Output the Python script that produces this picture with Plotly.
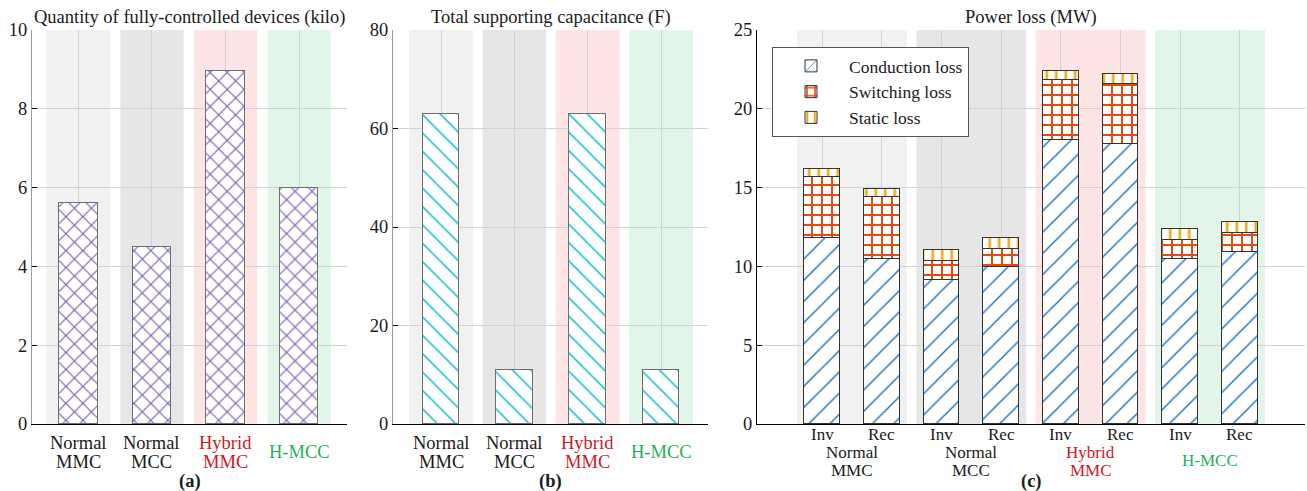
import plotly.graph_objects as go

# ---------------- data ----------------
groups = [["Normal", "MMC"], ["Normal", "MCC"], ["Hybrid", "MMC"], ["H-MCC"]]
group_colors = ["#1a1a1a", "#1a1a1a", "#cc1a1f", "#1fb25a"]
band_colors = ["#f1f1f1", "#e6e6e6", "#fde4e5", "#e2f5e9"]

devices_kilo = [5.6, 4.5, 8.95, 6.0]
capacitance_F = [63, 11, 63, 11]

loss_labels = ["Inv", "Rec", "Inv", "Rec", "Inv", "Rec", "Inv", "Rec"]
conduction_loss = [11.8, 10.5, 9.15, 9.95, 18.0, 17.75, 10.5, 10.9]
switching_loss = [3.9, 3.9, 1.2, 1.15, 3.85, 3.85, 1.15, 1.2]
static_loss = [0.5, 0.5, 0.7, 0.7, 0.55, 0.6, 0.7, 0.7]

titles = ["Quantity of fully-controlled devices (kilo)",
          "Total supporting capacitance (F)",
          "Power loss (MW)"]
panel_tags = ["(a)", "(b)", "(c)"]

FONT = "Liberation Serif"
FS = 18.5
FSC = 17  # labels under panel (c)
W, H = 1307, 491
TOP, BOT = 30, 424  # plot area pixel rows
TXT = "#1a1a1a"

fig = go.Figure()

# panel (a)
xa = list(range(len(groups)))
fig.add_trace(go.Bar(
    x=xa, y=devices_kilo, width=0.52, xaxis="x", yaxis="y", showlegend=False,
    marker=dict(color="white", line=dict(color="#6e6e6e", width=1),
                pattern=dict(shape="x", fgcolor="#7658ad", bgcolor="white",
                             size=12, solidity=0.17, fgopacity=1)),
))
# panel (b)
fig.add_trace(go.Bar(
    x=xa, y=capacitance_F, width=0.5, xaxis="x2", yaxis="y2", showlegend=False,
    marker=dict(color="white", line=dict(color="#6e6e6e", width=1),
                pattern=dict(shape="\\", fgcolor="#2cc6c9", bgcolor="white",
                             size=13, solidity=0.13, fgopacity=1)),
))
# panel (c)
xc = list(range(len(loss_labels)))
for name, vals, shape, col, size, sol in [
    ("Conduction loss", conduction_loss, "/", "#2076c4", 15, 0.1),
    ("Switching loss", switching_loss, "+", "#e04c14", 10, 0.36),
    ("Static loss", static_loss, "|", "#eeab14", 9.5, 0.28),
]:
    fig.add_trace(go.Bar(
        x=xc, y=vals, width=0.6, name=name, xaxis="x3", yaxis="y3",
        marker=dict(color="white", line=dict(color="#333333", width=1),
                    pattern=dict(shape=shape, fgcolor=col, bgcolor="white",
                                 size=size, solidity=sol, fgopacity=1)),
    ))

doms = [(32 / W, 347 / W), (393 / W, 708 / W), (757 / W, 1305 / W)]
grid_col = "#d2d2d2"

def xaxis_cfg(dom, rng, tickvals, anchor):
    return dict(domain=list(dom), range=rng, tickvals=tickvals,
                showticklabels=False, showgrid=True, gridcolor=grid_col, gridwidth=1,
                ticks="", showline=True, linecolor="black", linewidth=1,
                zeroline=False, fixedrange=True, anchor=anchor)

def yaxis_cfg(anchor, rng, dtick, linecol):
    return dict(domain=[0, 1], range=rng, dtick=dtick, anchor=anchor,
                showgrid=True, gridcolor=grid_col, gridwidth=1,
                ticks="inside", ticklen=5, tickcolor="black",
                showline=True, linecolor=linecol, linewidth=1, zeroline=False,
                tickfont=dict(family=FONT, size=FS, color=TXT), fixedrange=True)

fig.update_layout(
    width=W, height=H,
    margin=dict(l=0, r=0, t=TOP, b=H - BOT),
    plot_bgcolor="white", paper_bgcolor="white",
    barmode="stack", bargap=0,
    font=dict(family=FONT, size=FS, color=TXT),
    xaxis=xaxis_cfg(doms[0], [-0.63, 3.65], xa, "y"),
    xaxis2=xaxis_cfg(doms[1], [-0.655, 3.64], xa, "y2"),
    xaxis3=xaxis_cfg(doms[2], [-1.09, 8.09], xc, "y3"),
    yaxis=yaxis_cfg("x", [0, 10], 2, "#9a9a9a"),
    yaxis2=yaxis_cfg("x2", [0, 80], 20, "#9a9a9a"),
    yaxis3=yaxis_cfg("x3", [0, 25], 5, "black"),
    legend=dict(x=772 / W, y=(BOT - 47) / (BOT - TOP), xanchor="left", yanchor="top",
                traceorder="normal", bgcolor="white", bordercolor="#555555",
                borderwidth=1, font=dict(family=FONT, size=17.5, color=TXT),
                itemwidth=66, tracegroupgap=0),
)

shapes = []
annotations = []

def label_lines(xref, x, lines, color, centers, size=FS):
    # centers: pixel rows of the line centres
    for ln, cy in zip(lines, centers):
        annotations.append(dict(xref=xref, yref="paper", x=x, y=0, yshift=BOT - cy,
                                text=ln, showarrow=False, xanchor="center",
                                yanchor="middle",
                                font=dict(family=FONT, size=size, color=color)))

# bands and labels for (a), (b)
for ax, bw in [("", 0.86), ("2", 0.87)]:
    for i, g in enumerate(groups):
        shapes.append(dict(type="rect", xref="x" + ax, yref=f"y{ax} domain",
                           x0=i - bw / 2, x1=i + bw / 2, y0=0, y1=1,
                           fillcolor=band_colors[i], line=dict(width=0), layer="below"))
        label_lines("x" + ax, i, g, group_colors[i],
                    [443, 462] if len(g) == 2 else [452])
# Inv / Rec labels under each bar of (c)
for i, t in enumerate(loss_labels):
    label_lines("x3", xc[i], [t], TXT, [434], FSC)
# bands and group labels for (c)
for i, g in enumerate(groups):
    c = 2 * i + 0.5
    shapes.append(dict(type="rect", xref="x3", yref="y3 domain",
                       x0=c - 0.92, x1=c + 0.92, y0=0, y1=1,
                       fillcolor=band_colors[i], line=dict(width=0), layer="below"))
    label_lines("x3", c, g, group_colors[i], [452, 470] if len(g) == 2 else [460], FSC)

# titles and panel tags
for k, (d0, d1) in enumerate(doms):
    xm = (d0 + d1) / 2
    annotations.append(dict(xref="paper", yref="paper", x=xm, y=1, yshift=13,
                            text=titles[k], showarrow=False, xanchor="center",
                            yanchor="middle",
                            font=dict(family=FONT, size=FS, color=TXT)))
    annotations.append(dict(xref="paper", yref="paper", x=xm, y=0, yshift=BOT - 481,
                            text=f"<b>{panel_tags[k]}</b>", showarrow=False,
                            xanchor="center", yanchor="middle",
                            font=dict(family=FONT, size=FS, color=TXT)))

fig.update_layout(shapes=shapes, annotations=annotations)
fig.write_html("out.html", config={"displayModeBar": False},
               post_script="document.body.style.margin='0px';"
                           "document.body.style.padding='0px';")
